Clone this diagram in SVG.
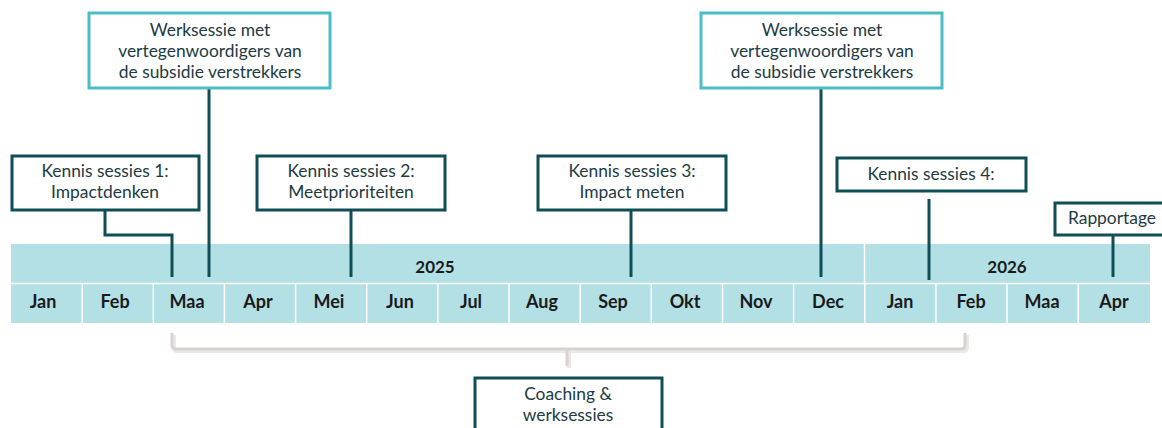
<svg xmlns="http://www.w3.org/2000/svg" width="1162" height="428" viewBox="0 0 1162 428">
<defs>
<style>
.cell{fill:#b3e0e5;}
.sep{stroke:#ffffff;stroke-width:1.5;}
.mon{font-family:Lato,"Open Sans",sans-serif;font-weight:bold;font-size:18px;fill:#1a1a1a;text-anchor:middle;}
.yr{font-size:17px;}
.box{fill:#ffffff;stroke:#0f4e56;stroke-width:3;}
.box2{fill:#ffffff;stroke:#4bbdc4;stroke-width:3;}
.lbl{font-family:Lato,"Open Sans",sans-serif;font-size:17.4px;fill:#1d3b42;text-anchor:middle;}
.con{fill:none;stroke:#0f4e56;stroke-width:3;}
.brk{fill:none;stroke:#d9d2d2;stroke-width:3;stroke-linejoin:round;}
.brks{fill:none;stroke:#ebe8e8;stroke-width:4;stroke-linejoin:round;}
</style>
</defs>
<g id="timeline">
<rect class="cell" x="11" y="244" width="853" height="39"/>
<rect class="cell" x="865" y="244" width="285" height="39"/>
<rect class="cell" x="11" y="284" width="1139" height="39"/>
<line class="sep" x1="864.5" y1="244" x2="864.5" y2="284"/>
<line class="sep" x1="11" y1="283.5" x2="1150" y2="283.5"/>
<g class="sep">
<line x1="82.2" y1="284" x2="82.2" y2="323"/>
<line x1="153.3" y1="284" x2="153.3" y2="323"/>
<line x1="224.4" y1="284" x2="224.4" y2="323"/>
<line x1="295.6" y1="284" x2="295.6" y2="323"/>
<line x1="366.7" y1="284" x2="366.7" y2="323"/>
<line x1="437.9" y1="284" x2="437.9" y2="323"/>
<line x1="509" y1="284" x2="509" y2="323"/>
<line x1="580.2" y1="284" x2="580.2" y2="323"/>
<line x1="651.3" y1="284" x2="651.3" y2="323"/>
<line x1="722.5" y1="284" x2="722.5" y2="323"/>
<line x1="793.6" y1="284" x2="793.6" y2="323"/>
<line x1="864.8" y1="284" x2="864.8" y2="323"/>
<line x1="935.9" y1="284" x2="935.9" y2="323"/>
<line x1="1007" y1="284" x2="1007" y2="323"/>
<line x1="1078.2" y1="284" x2="1078.2" y2="323"/>
</g>
<text class="mon yr" x="435" y="273">2025</text>
<text class="mon yr" x="1007" y="273">2026</text>
<text class="mon" x="43" y="308">Jan</text>
<text class="mon" x="115" y="308">Feb</text>
<text class="mon" x="187" y="308">Maa</text>
<text class="mon" x="258" y="308">Apr</text>
<text class="mon" x="329" y="308">Mei</text>
<text class="mon" x="400" y="308">Jun</text>
<text class="mon" x="471" y="308">Jul</text>
<text class="mon" x="542" y="308">Aug</text>
<text class="mon" x="613" y="308">Sep</text>
<text class="mon" x="685" y="308">Okt</text>
<text class="mon" x="756" y="308">Nov</text>
<text class="mon" x="828" y="308">Dec</text>
<text class="mon" x="900" y="308">Jan</text>
<text class="mon" x="971" y="308">Feb</text>
<text class="mon" x="1042" y="308">Maa</text>
<text class="mon" x="1114" y="308">Apr</text>
</g>
<g id="connectors">
<polyline class="con" points="105,210 105,235 172,235 172,277"/>
<line class="con" x1="209" y1="88" x2="209" y2="277"/>
<line class="con" x1="351" y1="210" x2="351" y2="277"/>
<line class="con" x1="631" y1="210" x2="631" y2="277"/>
<line class="con" x1="821" y1="88" x2="821" y2="277"/>
<line class="con" x1="929" y1="199" x2="929" y2="280"/>
<line class="con" x1="1113" y1="235" x2="1113" y2="277"/>
<path class="brks" d="M174,335 V347 Q174,351 178,351 H963 Q967,351 967,347 V335 M569,351 V368"/>
<path class="brk" d="M172,333 V345 Q172,349 176,349 H961 Q965,349 965,345 V333 M567,349 V366"/>
</g>
<g id="ks1">
<rect class="box" x="12" y="156" width="187" height="54"/>
<text class="lbl" x="105" y="177">Kennis sessies 1:</text>
<text class="lbl" x="105" y="198">Impactdenken</text>
</g>
<g id="ws1">
<rect class="box2" x="89" y="13" width="241" height="75"/>
<text class="lbl" x="210" y="36">Werksessie met</text>
<text class="lbl" x="210" y="57">vertegenwoordigers van</text>
<text class="lbl" x="210" y="78">de subsidie verstrekkers</text>
</g>
<g id="ks2">
<rect class="box" x="257" y="156" width="188" height="54"/>
<text class="lbl" x="351" y="177">Kennis sessies 2:</text>
<text class="lbl" x="351" y="198">Meetprioriteiten</text>
</g>
<g id="ks3">
<rect class="box" x="538" y="156" width="188" height="54"/>
<text class="lbl" x="632" y="177">Kennis sessies 3:</text>
<text class="lbl" x="632" y="198">Impact meten</text>
</g>
<g id="ws2">
<rect class="box2" x="701" y="13" width="241" height="75"/>
<text class="lbl" x="822" y="36">Werksessie met</text>
<text class="lbl" x="822" y="57">vertegenwoordigers van</text>
<text class="lbl" x="822" y="78">de subsidie verstrekkers</text>
</g>
<g id="ks4">
<rect class="box" x="837" y="158" width="189" height="33"/>
<text class="lbl" x="931" y="180">Kennis sessies 4:</text>
</g>
<g id="rapportage">
<rect class="box" x="1055" y="203" width="120" height="32"/>
<text class="lbl" x="1112" y="224">Rapportage</text>
</g>
<g id="coaching">
<rect class="box" x="475" y="378" width="187" height="60"/>
<text class="lbl" x="568" y="400">Coaching &amp;</text>
<text class="lbl" x="568" y="421">werksessies</text>
</g>
</svg>
